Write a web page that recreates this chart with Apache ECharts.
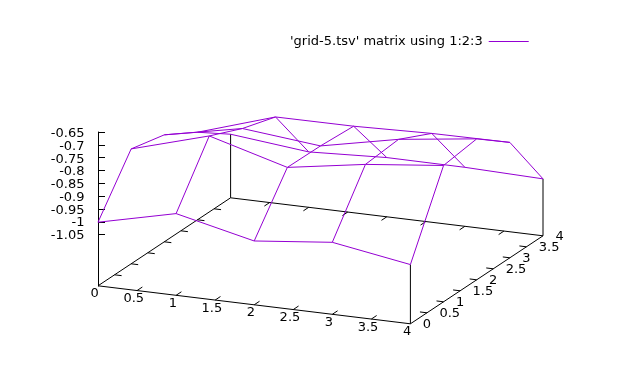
<!DOCTYPE html>
<html>
<head>
<meta charset="utf-8">
<style>html,body{margin:0;padding:0;background:#fff}#c{width:640px;height:384px}</style>
<script src="https://cdn.jsdelivr.net/npm/echarts@6/dist/echarts.min.js"></script>
</head>
<body>
<div id="c"></div>
<script>
// Matrix values: zRows[iy][ix]
const gridX = [0, 1, 2, 3, 4];
const gridY = [0, 1, 2, 3, 4];
const zRow0 = [-1.001, -0.930, -1.000, -0.968, -1.018];
const zRow1 = [-0.800, -0.712, -0.798, -0.749, -0.716];
const zRow2 = [-0.831, -0.769, -0.800, -0.737, -0.698];
const zRow3 = [-0.907, -0.810, -0.809, -0.800, -0.798];
const zRow4 = [-1.001, -1.033, -1.018, -1.019, -1.027];
const zRows = [zRow0, zRow1, zRow2, zRow3, zRow4];

const xTicks = [0, 0.5, 1, 1.5, 2, 2.5, 3, 3.5, 4];
const yTicks = [0, 0.5, 1, 1.5, 2, 2.5, 3, 3.5, 4];
const zTicks = [-1.05, -1, -0.95, -0.9, -0.85, -0.8, -0.75, -0.7, -0.65];
const seriesName = "'grid-5.tsv' matrix using 1:2:3";

// View of the 3D box, in canvas units
const VIEW = {ox: 98, oy: 285.8, xx: 78.1, xy: 9.5, yx: 33.15, yy: -22, zz: 255.3, zBase: -1.25, zTop: -0.65};
function project(x, y, z) {
  return [
    VIEW.ox + VIEW.xx * x + VIEW.yx * y,
    VIEW.oy + VIEW.xy * x + VIEW.yy * y - VIEW.zz * (z - VIEW.zBase)
  ];
}
const GAP = [NaN, NaN];
function polylines(list) {
  const out = [];
  list.forEach(function (pl) { pl.forEach(function (p) { out.push(p); }); out.push(GAP); });
  return out;
}

// surface: rows and columns of the matrix
const surfaceLines = [];
gridY.forEach(function (y, iy) {
  surfaceLines.push(gridX.map(function (x, ix) { return project(x, y, zRows[iy][ix]); }));
});
gridX.forEach(function (x, ix) {
  surfaceLines.push(gridY.map(function (y, iy) { return project(x, y, zRows[iy][ix]); }));
});

// box: base edges, corner posts up to the surface, and inward ticks
const B = VIEW.zBase;
const boxLines = [
  [project(0, 0, B), project(4, 0, B), project(4, 4, B), project(0, 4, B), project(0, 0, B)],
  [project(4, 0, B), project(4, 0, zRows[0][4])],
  [project(4, 4, B), project(4, 4, zRows[4][4])],
  [project(0, 4, B), project(0, 4, zRows[4][0])]
];
const TX = 0.16, TY = 0.09;
xTicks.slice(1, -1).forEach(function (t) {
  boxLines.push([project(t, 0, B), project(t, TX, B)]);
  boxLines.push([project(t, 4, B), project(t, 4 - TX, B)]);
});
yTicks.slice(1, -1).forEach(function (t) {
  boxLines.push([project(0, t, B), project(TY, t, B)]);
  boxLines.push([project(4, t, B), project(4 - TY, t, B)]);
});

const xLabelData = xTicks.map(function (t) { const p = project(t, 0, B); return [p[0], p[1], t]; });
const yLabelData = yTicks.map(function (t) { const p = project(4, t, B); return [p[0], p[1], t]; });
const zLabelData = zTicks.map(function (t) { const p = project(0, 0, t); return [p[0], p[1], t]; });

const FONT = '13px "DejaVu Sans"';
function labelSeries(data, dx, dy, align) {
  return {
    type: 'custom', xAxisIndex: 0, yAxisIndex: 0, silent: true, animation: false,
    data: data,
    encode: {x: 0, y: 1},
    renderItem: function (params, api) {
      const c = api.coord([api.value(0), api.value(1)]);
      return {
        type: 'text', x: c[0] + dx, y: c[1] + dy,
        style: {text: String(api.value(2)), fill: '#000', font: FONT, textAlign: align, textVerticalAlign: 'middle'}
      };
    }
  };
}

const chart = echarts.init(document.getElementById('c'), null, {renderer: 'canvas', width: 640, height: 384});
chart.setOption({
  animation: false,
  backgroundColor: '#fff',
  legend: {
    show: true, data: [seriesName], align: 'right', selectedMode: false,
    left: 290, top: 35, padding: 0,
    itemWidth: 40, itemHeight: 14,
    itemStyle: {opacity: 0},
    lineStyle: {width: 1},
    textStyle: {color: '#000', fontFamily: 'DejaVu Sans', fontSize: 13, padding: [0, 1, 0, 0]}
  },
  grid: [
    {left: 0, top: 0, width: 640, height: 384, show: false},
    {left: 98, top: 132, width: 1, height: 154, show: false}
  ],
  xAxis: [
    {type: 'value', gridIndex: 0, min: 0, max: 640, show: false},
    {type: 'value', gridIndex: 1, min: 0, max: 1, show: false}
  ],
  yAxis: [
    {type: 'value', gridIndex: 0, min: 0, max: 384, inverse: true, show: false},
    {
      type: 'value', gridIndex: 1, min: VIEW.zBase, max: VIEW.zTop, interval: 0.05, position: 'left',
      axisLine: {show: true, onZero: false, lineStyle: {color: '#000', width: 1}},
      axisTick: {show: true, inside: true, length: 7, customValues: zTicks, lineStyle: {color: '#000', width: 1}},
      axisLabel: {show: false},
      splitLine: {show: false}
    }
  ],
  series: [
    {
      name: 'box', type: 'line', xAxisIndex: 0, yAxisIndex: 0, silent: true, symbol: 'none', clip: false,
      data: polylines(boxLines), connectNulls: false,
      lineStyle: {color: '#000', width: 1}, itemStyle: {color: '#000'}
    },
    {
      name: seriesName, type: 'line', xAxisIndex: 0, yAxisIndex: 0, silent: true, symbol: 'none', clip: false,
      data: polylines(surfaceLines), connectNulls: false,
      lineStyle: {color: '#9400d3', width: 1}, itemStyle: {color: '#9400d3'}
    },
    labelSeries(xLabelData, -3.3, 8.2, 'center'),
    labelSeries(yLabelData, 12.4, 1.3, 'left'),
    labelSeries(zLabelData, -13.5, 1, 'right')
  ]
});
</script>
</body>
</html>
